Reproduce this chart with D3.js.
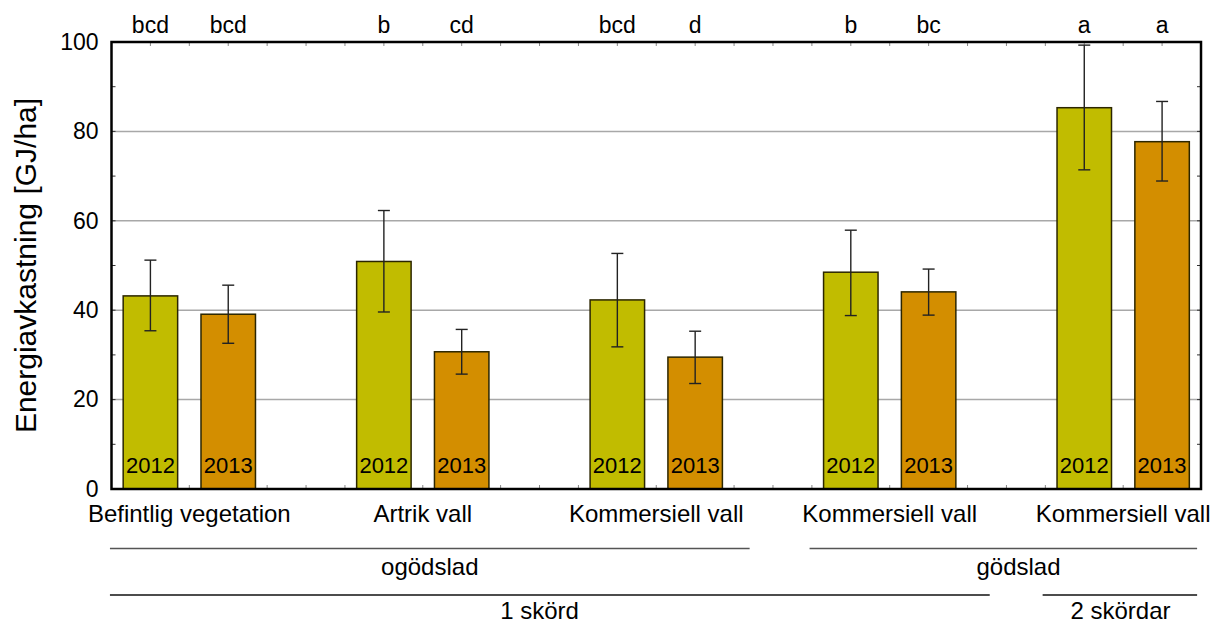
<!DOCTYPE html>
<html>
<head>
<meta charset="utf-8">
<script src="https://cdn.jsdelivr.net/npm/d3@7"></script>
<style>
  body { margin: 0; background: #fff; }
  svg text { font-family: "Liberation Sans", Arial, sans-serif; fill: #000; }
</style>
</head>
<body>
<script>
// Data
const categories = ["Befintlig vegetation", "Artrik vall", "Kommersiell vall", "Kommersiell vall", "Kommersiell vall"];
const years = ["2012", "2013"];
const means2012 = [43.2, 50.9, 42.3, 48.5, 85.3];
const lo2012   = [35.4, 39.6, 31.8, 38.8, 71.4];
const hi2012   = [51.2, 62.3, 52.7, 57.9, 99.3];
const means2013 = [39.1, 30.7, 29.5, 44.1, 77.7];
const lo2013   = [32.6, 25.7, 23.6, 38.9, 68.9];
const hi2013   = [45.6, 35.7, 35.3, 49.2, 86.7];
const letters2012 = ["bcd", "b", "bcd", "b", "a"];
const letters2013 = ["bcd", "cd", "d", "bc", "a"];
const yTicks = [0, 20, 40, 60, 80, 100];
const fertLabels = ["ogödslad", "gödslad"];
const harvestLabels = ["1 skörd", "2 skördar"];

const W = 1217, H = 624;
const mLeft = 111.5, mRight = 1201, mTop = 42, mBottom = 489;

const svg = d3.select("body").append("svg").attr("width", W).attr("height", H);

// Scales: each group takes 6 units, bars at 1 and 3 within it
const x = d3.scaleLinear().domain([0, 28]).range([mLeft, mRight]);
const y = d3.scaleLinear().domain([0, 100]).range([mBottom, mTop]);
const barW = x(1.4) - x(0);
const pos = (g, k) => 1 + g * 6 + k * 2;
const colors = ["#c1bc00", "#d38e00"];

const bars = [];
categories.forEach((c, g) => {
  bars.push({g, k: 0, v: means2012[g], lo: lo2012[g], hi: hi2012[g], letter: letters2012[g]});
  bars.push({g, k: 1, v: means2013[g], lo: lo2013[g], hi: hi2013[g], letter: letters2013[g]});
});

// Gridlines
svg.append("g").selectAll("line")
  .data(yTicks.filter(t => t > 0 && t < 100))
  .enter().append("line")
  .attr("x1", mLeft).attr("x2", mRight)
  .attr("y1", d => y(d)).attr("y2", d => y(d))
  .attr("stroke", "#a8a8a8").attr("stroke-width", 1.5);

// minor ticks on top / bottom
const xt = d3.range(1, 28);
svg.append("g").selectAll("line").data(xt).enter().append("line")
  .attr("x1", d => x(d)).attr("x2", d => x(d))
  .attr("y1", mTop).attr("y2", mTop + 4)
  .attr("stroke", "#888").attr("stroke-width", 1);
svg.append("g").selectAll("line").data(xt).enter().append("line")
  .attr("x1", d => x(d)).attr("x2", d => x(d))
  .attr("y1", mBottom).attr("y2", mBottom - 4)
  .attr("stroke", "#888").attr("stroke-width", 1);

// ticks on left / right every 10
const yt = d3.range(10, 100, 10);
svg.append("g").selectAll("line").data(yt).enter().append("line")
  .attr("x1", mLeft).attr("x2", mLeft + 4)
  .attr("y1", d => y(d)).attr("y2", d => y(d))
  .attr("stroke", "#333").attr("stroke-width", 1);
svg.append("g").selectAll("line").data(yt).enter().append("line")
  .attr("x1", mRight).attr("x2", mRight - 4)
  .attr("y1", d => y(d)).attr("y2", d => y(d))
  .attr("stroke", "#333").attr("stroke-width", 1);

// Bars
svg.append("g").selectAll("rect").data(bars).enter().append("rect")
  .attr("x", d => x(pos(d.g, d.k)) - barW / 2)
  .attr("y", d => y(d.v))
  .attr("width", barW)
  .attr("height", d => y(0) - y(d.v))
  .attr("fill", d => colors[d.k])
  .attr("stroke", "#2b2600").attr("stroke-width", 1.5);

// Year labels inside bars
svg.append("g").selectAll("text").data(bars).enter().append("text")
  .attr("x", d => x(pos(d.g, d.k)))
  .attr("y", mBottom - 16)
  .attr("text-anchor", "middle")
  .style("font-size", "22px")
  .text(d => years[d.k]);

// Error bars
const eb = svg.append("g").attr("stroke", "#222").attr("stroke-width", 1.4);
bars.forEach(d => {
  const cx = x(pos(d.g, d.k));
  eb.append("line").attr("x1", cx).attr("x2", cx).attr("y1", y(d.hi)).attr("y2", y(d.lo));
  eb.append("line").attr("x1", cx - 6).attr("x2", cx + 6).attr("y1", y(d.hi)).attr("y2", y(d.hi));
  eb.append("line").attr("x1", cx - 6).attr("x2", cx + 6).attr("y1", y(d.lo)).attr("y2", y(d.lo));
});

// Frame
svg.append("rect")
  .attr("x", mLeft).attr("y", mTop)
  .attr("width", mRight - mLeft).attr("height", mBottom - mTop)
  .attr("fill", "none").attr("stroke", "#000").attr("stroke-width", 2.5);

// Y axis labels
const yAxis = d3.axisLeft(y).tickValues(yTicks).tickSize(0).tickPadding(13);
svg.append("g").attr("transform", `translate(${mLeft},0)`).call(yAxis)
  .call(g => g.select(".domain").remove())
  .selectAll("text")
  .attr("fill", "#000")
  .style("font-size", "23px")
  .style("font-family", '"Liberation Sans", Arial, sans-serif');

svg.append("text")
  .attr("transform", `translate(36,${(mTop + mBottom) / 2}) rotate(-90)`)
  .attr("text-anchor", "middle")
  .style("font-size", "30px")
  .text("Energiavkastning [GJ/ha]");

// Significance letters
svg.append("g").selectAll("text").data(bars).enter().append("text")
  .attr("x", d => x(pos(d.g, d.k)))
  .attr("y", 33)
  .attr("text-anchor", "middle")
  .style("font-size", "23px")
  .text(d => d.letter);

// Category labels
svg.append("g").selectAll("text").data(categories).enter().append("text")
  .attr("x", (d, i) => x(i * 6 + 2))
  .attr("y", 522)
  .attr("text-anchor", "middle")
  .style("font-size", "24px")
  .text(d => d);

// Bracket rows (extents and label centres in axis units)
function bracketRow(labels, lineY, textY, stroke, extents, centres) {
  labels.forEach((lab, i) => {
    const [u1, u2] = extents[i];
    svg.append("line").attr("x1", x(u1)).attr("x2", x(u2))
      .attr("y1", lineY).attr("y2", lineY)
      .attr("stroke", stroke).attr("stroke-width", 1.3);
    svg.append("text")
      .attr("x", x(centres[i])).attr("y", textY)
      .attr("text-anchor", "middle")
      .style("font-size", "24px")
      .text(lab);
  });
}
bracketRow(fertLabels, 548.5, 575, "#555",
  [[-0.04, 16.4], [17.94, 27.9]], [8.18, 23.31]);
bracketRow(harvestLabels, 595, 619, "#111",
  [[-0.04, 22.57], [23.93, 27.9]], [11.0, 25.93]);
</script>
</body>
</html>
